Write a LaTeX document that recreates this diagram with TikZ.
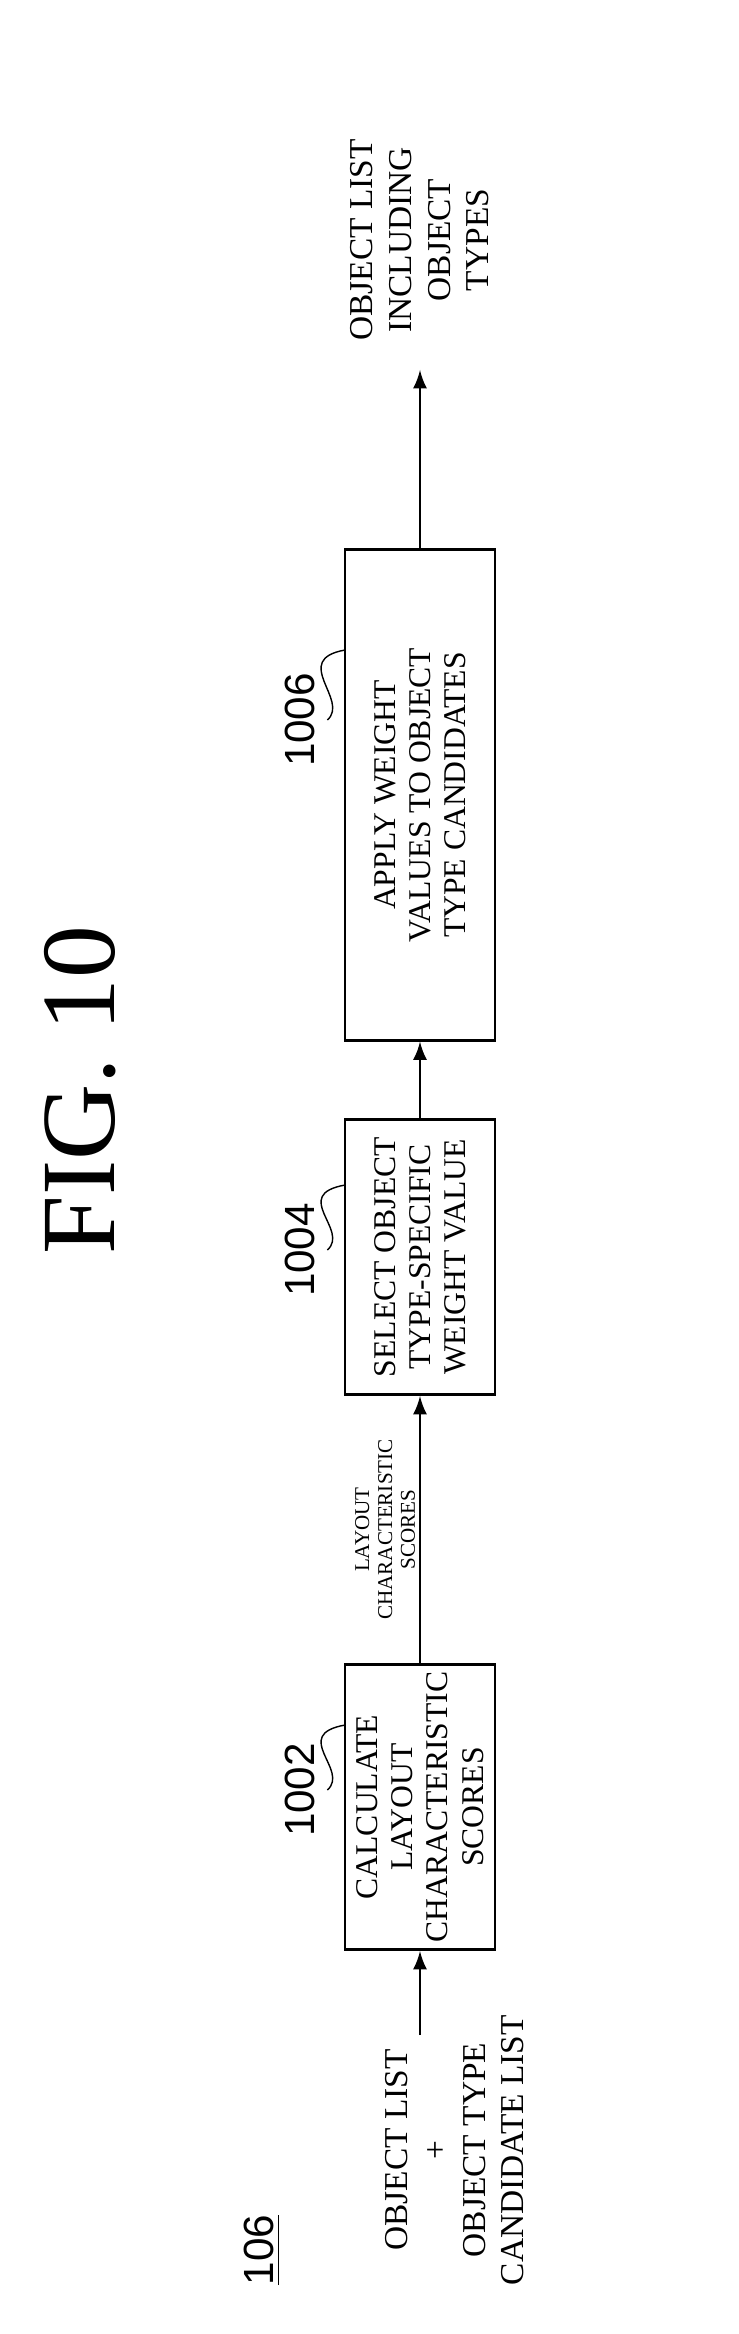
\documentclass[tikz,border=0pt]{standalone}
\usepackage{fontspec}
\setmainfont{Liberation Serif}
\setsansfont{Liberation Sans}
\usetikzlibrary{positioning}
\begin{document}
\begin{tikzpicture}[x=0.01cm,y=-0.01cm,
  blk/.style={draw,thick,rotate=90,align=center,font=\fontsize{9}{10}\selectfont,inner sep=0pt},
  txt/.style={rotate=90,align=center,font=\fontsize{9.5}{11}\selectfont},
  ref/.style={rotate=90,font=\sffamily\fontsize{12}{12}\selectfont},
  flow/.style={->,>=latex,thick}]
\useasboundingbox (0,0) rectangle (738,2334);
\node[rotate=90,font=\fontsize{30}{30}\selectfont] (title) at (80,1090) {FIG. 10};
\node[ref] (num) at (262,2250) {\underline{106}};
\node[txt] (input) at (455,2150) {OBJECT LIST\\+\\OBJECT TYPE\\CANDIDATE LIST};
\node[blk,minimum width=2.85cm,minimum height=1.5cm] (b1002) at (420,1807) {CALCULATE\\LAYOUT\\CHARACTERISTIC\\SCORES};
\node[blk,minimum width=2.75cm,minimum height=1.5cm] (b1004) at (420,1257) {SELECT OBJECT\\TYPE-SPECIFIC\\WEIGHT VALUE};
\node[blk,minimum width=4.9cm,minimum height=1.5cm] (b1006) at (420,795) {APPLY WEIGHT\\VALUES TO OBJECT\\TYPE CANDIDATES};
\node[txt] (output) at (420,240) {OBJECT LIST\\INCLUDING\\OBJECT\\TYPES};
\coordinate (in) at (420,2035);
\coordinate (out) at (420,370);
\draw[flow] (in) -- (b1002.west);
\draw[flow] (b1002.east) -- node[rotate=90,above,font=\fontsize{6}{6.5}\selectfont,align=center,inner sep=1pt]{LAYOUT\\CHARACTERISTIC\\SCORES} (b1004.west);
\draw[flow] (b1004.east) -- (b1006.west);
\draw[flow] (b1006.east) -- (out);
% reference numerals
\node[ref] (r1002) at (300,1790) {1002};
\node[ref] (r1004) at (300,1250) {1004};
\node[ref] (r1006) at (300,720) {1006};
\draw (r1002.south) .. controls (350,1770) and (290,1735) .. (345,1725);
\draw (r1004.south) .. controls (350,1230) and (290,1195) .. (345,1185);
\draw (r1006.south) .. controls (350,700) and (290,660) .. (345,650);
\end{tikzpicture}
\end{document}
